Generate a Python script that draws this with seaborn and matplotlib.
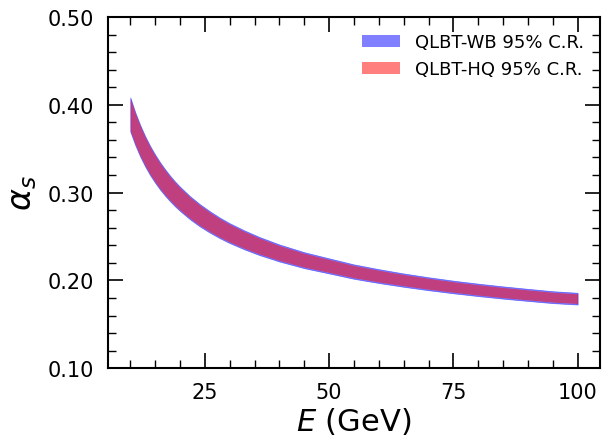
import numpy as np
import matplotlib
matplotlib.use("Agg")
import matplotlib.pyplot as plt
from matplotlib.ticker import MultipleLocator, FormatStrFormatter
from matplotlib.patches import Patch
import seaborn as sns

# energy grid (GeV) and 95% credible-region bounds
energy = [10, 11, 12, 13, 14, 15, 16, 17, 18, 19, 20, 22, 24, 26, 28, 30,
          33, 36, 40, 45, 50, 55, 60, 65, 70, 75, 80, 85, 90, 95, 100]

wb_lower = [0.3694, 0.3540, 0.3409, 0.3296, 0.3197, 0.3111, 0.3033, 0.2964,
            0.2901, 0.2843, 0.2791, 0.2696, 0.2614, 0.2544, 0.2481, 0.2425,
            0.2352, 0.2288, 0.2215, 0.2139, 0.2079, 0.2018, 0.1970, 0.1927,
            0.1888, 0.1853, 0.1821, 0.1792, 0.1766, 0.1741, 0.1725]
wb_upper = [0.4084, 0.3914, 0.3769, 0.3642, 0.3531, 0.3433, 0.3345, 0.3266,
            0.3193, 0.3127, 0.3067, 0.2960, 0.2868, 0.2788, 0.2715, 0.2651,
            0.2568, 0.2494, 0.2409, 0.2321, 0.2251, 0.2182, 0.2128, 0.2079,
            0.2036, 0.1997, 0.1963, 0.1932, 0.1904, 0.1877, 0.1859]

hq_lower = [0.3706, 0.3552, 0.3421, 0.3308, 0.3209, 0.3123, 0.3045, 0.2976,
            0.2913, 0.2855, 0.2803, 0.2708, 0.2626, 0.2556, 0.2493, 0.2437,
            0.2364, 0.2300, 0.2227, 0.2151, 0.2091, 0.2030, 0.1982, 0.1939,
            0.1900, 0.1865, 0.1833, 0.1804, 0.1778, 0.1753, 0.1737]
hq_upper = [0.4072, 0.3902, 0.3757, 0.3630, 0.3519, 0.3421, 0.3333, 0.3254,
            0.3181, 0.3115, 0.3055, 0.2948, 0.2856, 0.2776, 0.2703, 0.2639,
            0.2556, 0.2482, 0.2397, 0.2309, 0.2239, 0.2170, 0.2116, 0.2067,
            0.2024, 0.1985, 0.1951, 0.1920, 0.1892, 0.1865, 0.1847]

labels = ["QLBT-WB 95% C.R.", "QLBT-HQ 95% C.R."]
BLUE = '#0000ff'
RED = '#ff0000'

sns.set_theme(style="ticks")
plt.rcParams['font.family'] = ['DejaVu Sans']
plt.rcParams['mathtext.fontset'] = 'dejavusans'
plt.rcParams['text.color'] = 'black'
plt.rcParams['axes.labelcolor'] = 'black'
plt.rcParams['xtick.color'] = 'black'
plt.rcParams['ytick.color'] = 'black'

fig = plt.figure(figsize=(6.03, 4.39), dpi=100)
ax = fig.add_axes([0.179, 0.159, 0.816, 0.800])

ax.fill_between(energy, wb_lower, wb_upper, facecolor=BLUE, edgecolor=BLUE,
                alpha=0.5, linewidth=0.5)
ax.fill_between(energy, hq_lower, hq_upper, facecolor=RED, alpha=0.5,
                linewidth=0)

ax.set_ylim(0.10, 0.50)
ax.margins(x=0.05)
ax.xaxis.set_major_locator(MultipleLocator(25))
ax.xaxis.set_minor_locator(MultipleLocator(5))
ax.yaxis.set_major_locator(MultipleLocator(0.1))
ax.yaxis.set_minor_locator(MultipleLocator(0.02))
ax.yaxis.set_major_formatter(FormatStrFormatter('%.2f'))

ax.tick_params(which='both', direction='in', top=True, right=True,
               color='black', labelcolor='black')
ax.tick_params(which='major', length=11, width=1.2, labelsize=15, pad=10)
ax.tick_params(which='minor', length=5.5, width=1.0)
for s in ax.spines.values():
    s.set_linewidth(1.5)
    s.set_color('black')

ax.set_xlabel(r'$E$ (GeV)', fontsize=22, labelpad=2)
ax.set_ylabel(r'$\alpha_s$', fontsize=24, labelpad=6)

handles = [Patch(facecolor=BLUE, alpha=0.5, edgecolor='none'),
           Patch(facecolor=RED, alpha=0.5, edgecolor='none')]
ax.legend(handles, labels, loc='upper right', frameon=False, fontsize=13,
          handlelength=2.1, borderaxespad=0.5)

fig.savefig('out.png', dpi=100)
